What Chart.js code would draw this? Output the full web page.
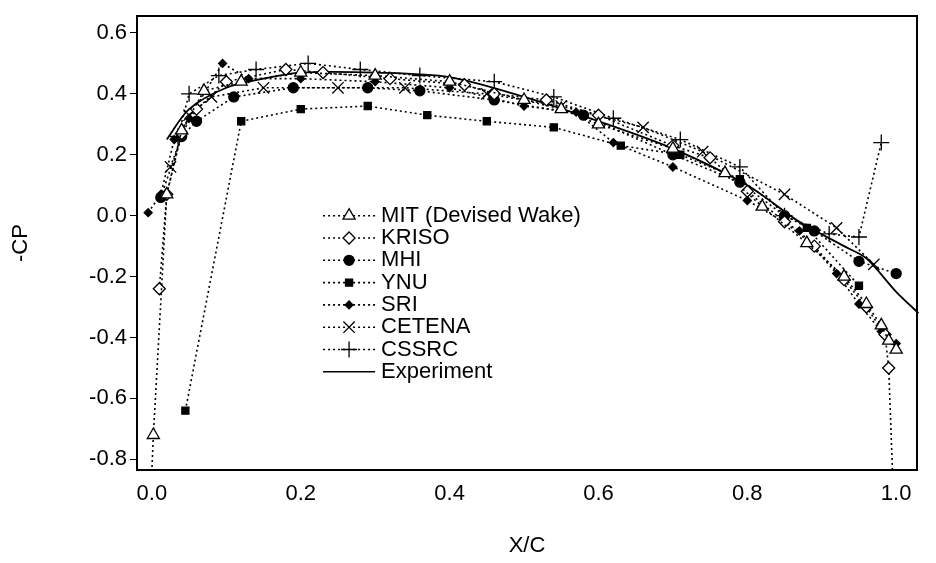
<!DOCTYPE html>
<html><head><script src="https://cdn.jsdelivr.net/npm/chart.js@4"></script>
<style>body{margin:0;background:#fff}#w{width:936px;height:563px}</style></head>
<body><div id="w"><canvas id="c"></canvas></div>
<script>
const xTicks=[0,0.2,0.4,0.6,0.8,1.0];
const yTicks=[-0.8,-0.6,-0.4,-0.2,0,0.2,0.4,0.6];
const mit=[[0.002,-0.72],[0.02,0.07],[0.04,0.28],[0.07,0.41],[0.12,0.44],[0.2,0.47],[0.3,0.46],[0.4,0.44],[0.5,0.38],[0.55,0.35],[0.6,0.30],[0.7,0.22],[0.77,0.14],[0.82,0.03],[0.88,-0.09],[0.93,-0.2],[0.96,-0.29],[0.98,-0.36],[0.99,-0.41],[1.0,-0.44]];
const kriso=[[0.01,-0.24],[0.02,0.07],[0.04,0.27],[0.06,0.35],[0.1,0.44],[0.18,0.48],[0.23,0.47],[0.32,0.45],[0.42,0.43],[0.46,0.40],[0.53,0.38],[0.6,0.33],[0.7,0.23],[0.75,0.19],[0.8,0.08],[0.85,-0.02],[0.89,-0.1],[0.93,-0.21],[0.96,-0.3],[0.985,-0.39],[0.99,-0.5]];
const mhi=[[0.012,0.06],[0.04,0.26],[0.06,0.31],[0.11,0.39],[0.19,0.42],[0.29,0.42],[0.36,0.41],[0.46,0.38],[0.58,0.33],[0.7,0.2],[0.79,0.11],[0.85,0.0],[0.89,-0.05],[0.95,-0.15],[1.0,-0.19]];
const ynu=[[0.045,-0.64],[0.12,0.31],[0.2,0.35],[0.29,0.36],[0.37,0.33],[0.45,0.31],[0.54,0.29],[0.63,0.23],[0.71,0.2],[0.79,0.12],[0.88,-0.04],[0.95,-0.23]];
const sri=[[-0.005,0.01],[0.012,0.07],[0.03,0.25],[0.05,0.32],[0.095,0.5],[0.13,0.45],[0.2,0.45],[0.3,0.44],[0.4,0.42],[0.5,0.36],[0.57,0.34],[0.62,0.24],[0.7,0.16],[0.8,0.05],[0.87,-0.05],[0.92,-0.19],[0.95,-0.29],[0.98,-0.38],[1.0,-0.42]];
const cetena=[[0.025,0.16],[0.05,0.33],[0.08,0.39],[0.15,0.42],[0.25,0.42],[0.34,0.42],[0.45,0.40],[0.55,0.36],[0.66,0.29],[0.74,0.21],[0.85,0.07],[0.92,-0.04],[0.97,-0.16]];
const cssrc=[[0.035,0.26],[0.05,0.4],[0.09,0.46],[0.14,0.48],[0.21,0.5],[0.28,0.48],[0.36,0.46],[0.46,0.44],[0.54,0.39],[0.62,0.32],[0.71,0.25],[0.79,0.16],[0.85,0.0],[0.91,-0.06],[0.95,-0.07],[0.98,0.24]];
const experiment=[[0.02,0.25],[0.05,0.35],[0.1,0.42],[0.15,0.45],[0.2,0.47],[0.3,0.47],[0.4,0.455],[0.5,0.39],[0.6,0.31],[0.7,0.22],[0.8,0.1],[0.87,-0.02],[0.93,-0.1],[0.96,-0.14],[1.0,-0.25],[1.03,-0.32]];
const labels=['MIT (Devised Wake)','KRISO','MHI','YNU','SRI','CETENA','CSSRC','Experiment'];
const F='"Liberation Sans",Arial';
const pts=a=>a.map(p=>({x:p[0],y:p[1]}));
const mk=(label,data,style,fill,r)=>({label,data:pts(data),borderColor:'#000',borderWidth:1.6,borderDash:[2,3],pointStyle:style,pointRadius:r,pointBackgroundColor:fill?'#000':'#fff',pointBorderColor:'#000',pointBorderWidth:1.3,showLine:true,tension:0,clip:false});
const ds=[mk(labels[0],mit,'triangle',false,7),mk(labels[1],kriso,'rectRot',false,6),mk(labels[2],mhi,'circle',true,5),mk(labels[3],ynu,'rect',true,5),mk(labels[4],sri,'rectRot',true,4),mk(labels[5],cetena,'crossRot',false,8),mk(labels[6],cssrc,'cross',false,8),
{label:labels[7],data:pts(experiment),borderColor:'#000',borderWidth:1.8,pointRadius:0,showLine:true,tension:0.3,clip:false}];
ds.push({label:'',data:[{x:0.002,y:-0.72},{x:0.0,y:-0.835}],borderColor:'#000',borderWidth:1.6,borderDash:[2,3],pointRadius:0,showLine:true});
ds.push({label:'',data:[{x:0.99,y:-0.5},{x:0.995,y:-0.835}],borderColor:'#000',borderWidth:1.6,borderDash:[2,3],pointRadius:0,showLine:true});
const legendPlugin={id:'lg',afterDraw(ch){const c=ch.ctx;const x0=ch.scales.x.getPixelForValue(0.23);let y=ch.scales.y.getPixelForValue(0.0);
c.save();c.font='22px '+F;c.textBaseline='middle';
for(let i=0;i<8;i++){const d=ch.data.datasets[i];c.strokeStyle='#000';c.lineWidth=1.6;c.setLineDash(i<7?[2,3]:[]);c.beginPath();c.moveTo(x0,y);c.lineTo(x0+52,y);c.stroke();c.setLineDash([]);
if(i<7){c.fillStyle=d.pointBackgroundColor;c.lineWidth=1.3;Chart.helpers.drawPoint(c,{pointStyle:d.pointStyle,radius:d.pointRadius,rotation:0,borderWidth:1.3},x0+26,y);}
c.fillStyle='#000';c.fillText(labels[i],x0+58,y);y+=22.3;}
c.restore();}};
new Chart(document.getElementById('c'),{type:'scatter',data:{datasets:ds},plugins:[legendPlugin],
options:{responsive:true,maintainAspectRatio:false,animation:false,layout:{padding:{top:5,right:11,left:4,bottom:0}},
plugins:{legend:{display:false},tooltip:{enabled:false}},
scales:{x:{type:'linear',min:-0.02,max:1.028,border:{color:'#000',width:2},grid:{display:false,drawOnChartArea:false,tickLength:7,color:'#000'},
afterFit:s=>{s.height=93},
afterBuildTicks:s=>{s.ticks=xTicks.map(v=>({value:v}))},ticks:{color:'#000',padding:4,font:{size:22,family:F},callback:v=>v.toFixed(1)},
title:{display:true,text:'X/C',color:'#000',font:{size:22,family:F},padding:{top:0}}},
y:{min:-0.835,max:0.655,border:{color:'#000',width:2},grid:{drawOnChartArea:false,tickLength:7,color:'#000'},
afterFit:s=>{s.width=133},
afterBuildTicks:s=>{s.ticks=yTicks.map(v=>({value:v}))},ticks:{color:'#000',font:{size:22,family:F},callback:v=>v.toFixed(1)},
title:{display:true,text:'-CP',color:'#000',font:{size:22,family:F}}},
x2:{position:'top',min:-0.02,max:1.028,border:{color:'#000',width:2},grid:{display:false},ticks:{display:false}},
y2:{position:'right',min:-0.835,max:0.655,border:{color:'#000',width:2},grid:{display:false},ticks:{display:false}}}}});
</script></body></html>
